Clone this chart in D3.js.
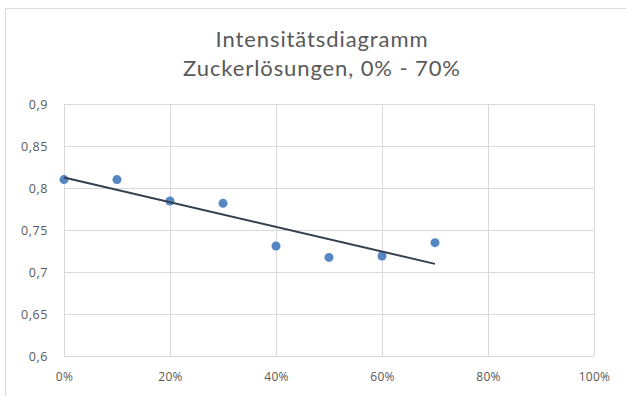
<!DOCTYPE html>
<html>
<head>
<meta charset="utf-8">
<script src="https://cdn.jsdelivr.net/npm/d3@7"></script>
<style>
  html, body { margin: 0; padding: 0; background: #fff; }
  svg { display: block; }
</style>
</head>
<body>
<svg id="chart" width="626" height="396"></svg>
<script>
// Sugar concentration (fraction) and measured intensity
const concentrations = [0, 0.1, 0.2, 0.3, 0.4, 0.5, 0.6, 0.7];
const intensities = [0.81, 0.81, 0.7845, 0.7817, 0.731, 0.7174, 0.719, 0.7349];
const xTicks = [0, 0.2, 0.4, 0.6, 0.8, 1.0];
const yTicks = [0.6, 0.65, 0.7, 0.75, 0.8, 0.85, 0.9];
const titleLines = ["Intensitätsdiagramm", "Zuckerlösungen, 0% - 70%"];

const svg = d3.select("#chart");
const plot = { left: 64, right: 594, top: 104, bottom: 356 };
const titleFont = "Lato, 'Open Sans', sans-serif";
const font = "'Open Sans', 'Noto Sans', sans-serif";
const textColor = "#595959";
const gridColor = "#d9d9d9";

// outer chart frame
svg.append("rect")
  .attr("x", 5.5).attr("y", 8.5)
  .attr("width", 660).attr("height", 420)
  .attr("fill", "#fff")
  .attr("stroke", "#d9d9d9").attr("stroke-width", 1);

const x = d3.scaleLinear().domain([0, 1]).range([plot.left, plot.right]);
const y = d3.scaleLinear().domain([0.6, 0.9]).range([plot.bottom, plot.top]);

// title
svg.append("g").selectAll("text").data(titleLines).join("text")
  .attr("x", 322)
  .attr("y", (d, i) => 47 + i * 29)
  .attr("text-anchor", "middle")
  .attr("font-family", titleFont)
  .attr("font-size", 22)
  .attr("letter-spacing", 0.9)
  .attr("fill", textColor)
  .text(d => d);

// horizontal gridlines + y labels
const yAxis = d3.axisLeft(y).tickValues(yTicks)
  .tickSize(-(plot.right - plot.left))
  .tickPadding(16)
  .tickFormat(d => String(+d.toFixed(2)).replace(".", ","));
const gy = svg.append("g").attr("transform", `translate(${plot.left},0)`).call(yAxis);
gy.select(".domain").remove();
gy.selectAll(".tick line").attr("stroke", gridColor).attr("stroke-width", 1);
gy.selectAll(".tick text").attr("font-family", font).attr("font-size", 12.5)
  .attr("letter-spacing", 0.6).attr("fill", textColor);

// vertical gridlines + x labels
const xAxis = d3.axisBottom(x).tickValues(xTicks)
  .tickSize(-(plot.bottom - plot.top))
  .tickPadding(16)
  .tickFormat(d3.format(".0%"));
const gx = svg.append("g").attr("transform", `translate(0,${plot.bottom})`).call(xAxis);
gx.select(".domain").remove();
gx.selectAll(".tick line").attr("stroke", gridColor).attr("stroke-width", 1);
gx.selectAll(".tick text").attr("font-family", font).attr("font-size", 12)
  .attr("letter-spacing", 0.3).attr("fill", textColor);

// least-squares trend line over the measured range
const mx = d3.mean(concentrations), my = d3.mean(intensities);
const sxy = d3.sum(concentrations, (c, i) => (c - mx) * (intensities[i] - my));
const sxx = d3.sum(concentrations, c => (c - mx) ** 2);
const slope = sxy / sxx, intercept = my - slope * mx;
const trend = d3.extent(concentrations).map(c => [c, intercept + slope * c]);

// measured points
svg.append("g").selectAll("circle").data(concentrations).join("circle")
  .attr("cx", d => x(d))
  .attr("cy", (d, i) => y(intensities[i]))
  .attr("r", 4.5)
  .attr("fill", "#5587c4");

svg.append("path")
  .datum(trend)
  .attr("d", d3.line().x(d => x(d[0])).y(d => y(d[1])))
  .attr("fill", "none")
  .attr("stroke", "#34404f")
  .attr("stroke-width", 2);
</script>
</body>
</html>
